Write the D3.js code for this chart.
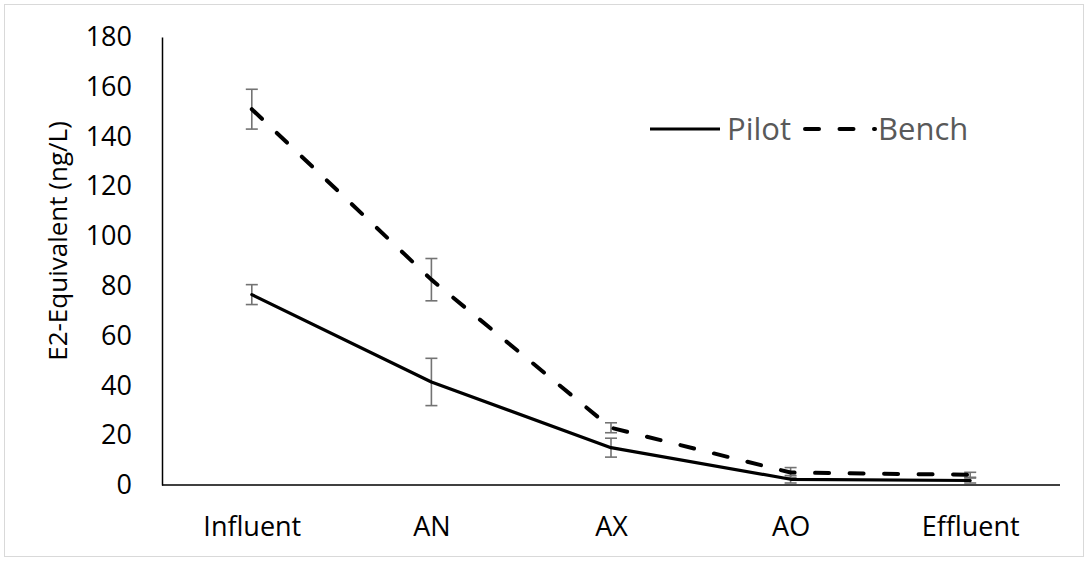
<!DOCTYPE html>
<html>
<head>
<meta charset="utf-8">
<script src="https://cdn.jsdelivr.net/npm/d3@7"></script>
<style>
  html, body { margin: 0; padding: 0; background: #fff; }
  svg { display: block; font-family: "Open Sans", "Noto Sans", sans-serif; }
</style>
</head>
<body>
<svg id="chart" width="1088" height="562"></svg>
<script>
// Sampling locations along the treatment train
const categories = ["Influent", "AN", "AX", "AO", "Effluent"];

// E2-equivalent estrogenic activity (ng/L), mean and error
const pilotValues = [76.5, 41.4, 15, 2.3, 1.8];
const pilotErrors = [4, 9.5, 3.8, 1.5, 1];
const benchValues = [151, 82.5, 23, 5, 4.1];
const benchErrors = [8, 8.5, 2, 2, 1];

const yTicks = [0, 20, 40, 60, 80, 100, 120, 140, 160, 180];

const seriesNames = ["Pilot", "Bench"];

const svg = d3.select("#chart");

// chart frame
svg.append("rect")
  .attr("x", 4.5).attr("y", 4.5)
  .attr("width", 1079).attr("height", 552)
  .attr("fill", "#fff")
  .attr("stroke", "#d9d9d9")
  .attr("stroke-width", 1);

const plot = { left: 162, right: 1060, top: 37, bottom: 485 };

const x = d3.scalePoint()
  .domain(categories)
  .range([plot.left, plot.right])
  .padding(0.5);

const y = d3.scaleLinear()
  .domain([0, 180])
  .range([plot.bottom, plot.top]);

// y axis: line plus labels, no tick marks
const yAxis = d3.axisLeft(y).tickValues(yTicks).tickSize(0).tickPadding(30);
const yg = svg.append("g").attr("transform", `translate(${plot.left},0)`).call(yAxis);
yg.select(".domain").attr("stroke", "#000").attr("stroke-width", 1.5);
yg.selectAll("text")
  .attr("font-size", 27)
  .attr("fill", "#000")
  .attr("font-family", "'Open Sans', sans-serif");

// x axis
const xAxis = d3.axisBottom(x).tickSize(0).tickPadding(32);
const xg = svg.append("g").attr("transform", `translate(0,${plot.bottom})`).call(xAxis);
xg.select(".domain")
  .attr("d", `M${plot.left},0H${plot.right}`)
  .attr("stroke", "#000").attr("stroke-width", 1.5);
xg.selectAll("text")
  .attr("font-size", 27)
  .attr("fill", "#000")
  .attr("font-family", "'Open Sans', sans-serif");

// y axis title
svg.append("text")
  .attr("transform", `translate(67,241) rotate(-90)`)
  .attr("text-anchor", "middle")
  .attr("font-size", 26)
  .attr("fill", "#000")
  .text("E2-Equivalent (ng/L)");

const line = d3.line()
  .x((d, i) => x(categories[i]))
  .y(d => y(d));

const series = [
  { name: seriesNames[0], values: pilotValues, errors: pilotErrors, dash: null, width: 3.2 },
  { name: seriesNames[1], values: benchValues, errors: benchErrors, dash: "14 20.5", width: 4 }
];

// error bars
const errColor = "#737373";
series.forEach(s => {
  const g = svg.append("g");
  s.values.forEach((v, i) => {
    const cx = x(categories[i]);
    const lo = y(v - s.errors[i]);
    const hi = y(v + s.errors[i]);
    g.append("line").attr("x1", cx).attr("x2", cx).attr("y1", lo).attr("y2", hi)
      .attr("stroke", errColor).attr("stroke-width", 1.6);
    [lo, hi].forEach(yy => {
      g.append("line").attr("x1", cx - 6).attr("x2", cx + 6).attr("y1", yy).attr("y2", yy)
        .attr("stroke", errColor).attr("stroke-width", 1.6);
    });
  });
});

// series lines
series.forEach(s => {
  svg.append("path")
    .datum(s.values)
    .attr("d", line)
    .attr("fill", "none")
    .attr("stroke", "#000")
    .attr("stroke-width", s.width)
    .attr("stroke-linejoin", "round")
    .attr("stroke-linecap", "round")
    .attr("stroke-dasharray", s.dash);
});

// legend
const legend = svg.append("g");
const legendItems = [
  { s: series[0], x0: 650, tx: 727 },
  { s: series[1], x0: 805, tx: 878 }
];
legendItems.forEach(item => {
  legend.append("line")
    .attr("x1", item.x0).attr("x2", item.x0 + 70)
    .attr("y1", 129).attr("y2", 129)
    .attr("stroke", "#000")
    .attr("stroke-width", item.s.width)
    .attr("stroke-linecap", item.s.dash ? "round" : "butt")
    .attr("stroke-dasharray", item.s.dash);
  legend.append("text")
    .attr("x", item.tx).attr("y", 140)
    .attr("font-size", 31)
    .attr("fill", "#595959")
    .text(item.s.name);
});
</script>
</body>
</html>
